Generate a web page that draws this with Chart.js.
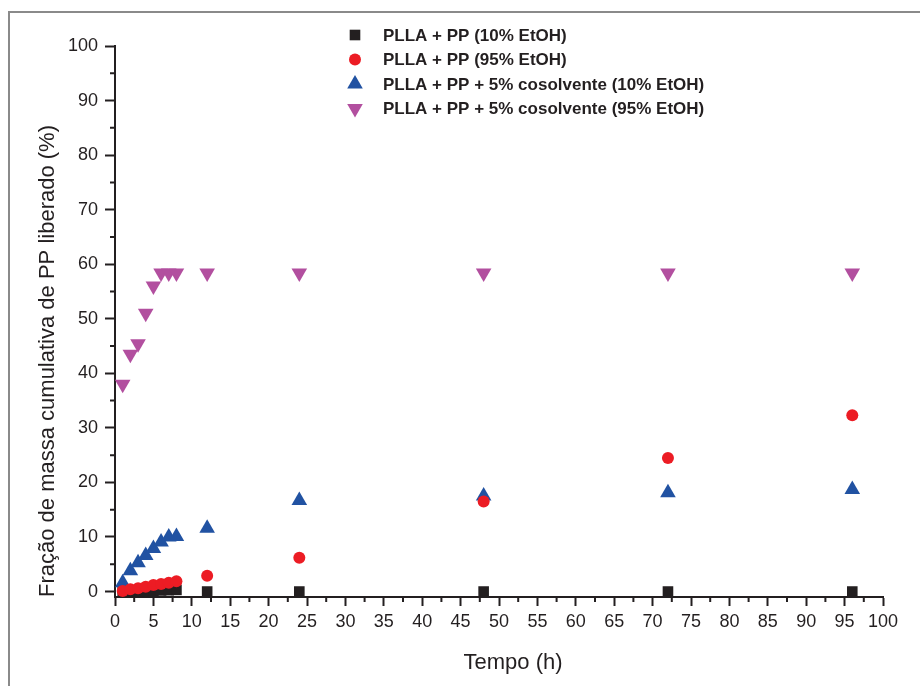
<!DOCTYPE html>
<html>
<head>
<meta charset="utf-8">
<script src="https://cdn.jsdelivr.net/npm/chart.js@4.4.1/dist/chart.umd.min.js"></script>
<style>
  html, body { margin: 0; padding: 0; background: #fff; }
  #wrap { width: 920px; height: 686px; position: relative; }
</style>
</head>
<body>
<div id="wrap"><canvas id="releaseChart" width="920" height="686"></canvas></div>
<script>
// sampling times (h)
const tempo = [1, 2, 3, 4, 5, 6, 7, 8, 12, 24, 48, 72, 96];

// cumulative released fraction of PP (%)
const pllaPp10 = [0, 0, 0.05, 0.1, 0.15, 0.2, 0.25, 0.3, 0, 0, 0, 0, 0];
const pllaPp95 = [0.1, 0.4, 0.6, 0.9, 1.2, 1.4, 1.6, 1.9, 2.9, 6.2, 16.5, 24.5, 32.3];
const cosolv10 = [1.6, 3.8, 5.3, 6.6, 7.9, 9.1, 10, 10.1, 11.6, 16.7, 17.5, 18.1, 18.7];
const cosolv95 = [38, 43.5, 45.4, 51, 56, 58.4, 58.4, 58.4, 58.4, 58.4, 58.4, 58.4, 58.4];

const seriesNames = [
    'PLLA + PP (10% EtOH)',
    'PLLA + PP (95% EtOH)',
    'PLLA + PP + 5% cosolvente (10% EtOH)',
    'PLLA + PP + 5% cosolvente (95% EtOH)'
];

const xTickValues = [0, 5, 10, 15, 20, 25, 30, 35, 40, 45, 50, 55, 60, 65, 70, 75, 80, 85, 90, 95, 100];
const yTickValues = [0, 10, 20, 30, 40, 50, 60, 70, 80, 90, 100];

const toPoints = vals => vals.map((v, i) => ({ x: tempo[i], y: v }));

const axisColor = '#231f20';
const fontFamily = '"Liberation Sans", Arial, sans-serif';

// minor ticks, outer frame, x title and the legend block
const extrasPlugin = {
    id: 'extras',
    beforeDraw(chart) {
        const ctx = chart.ctx;
        ctx.save();
        ctx.strokeStyle = '#8a8a8a';
        ctx.lineWidth = 2;
        ctx.beginPath();
        ctx.moveTo(9, 686);
        ctx.lineTo(9, 12);
        ctx.lineTo(920, 12);
        ctx.stroke();
        ctx.restore();
    },
    afterDatasetsDraw(chart) {
        const ctx = chart.ctx;
        const xs = chart.scales.x, ys = chart.scales.y;
        ctx.save();
        ctx.strokeStyle = axisColor;
        ctx.lineWidth = 2;
        ctx.beginPath();
        for (let i = 1; i < xTickValues.length; i++) {
            const px = xs.getPixelForValue((xTickValues[i - 1] + xTickValues[i]) / 2);
            ctx.moveTo(px, xs.top);
            ctx.lineTo(px, xs.top + 5);
        }
        for (let i = 1; i < yTickValues.length; i++) {
            const py = ys.getPixelForValue((yTickValues[i - 1] + yTickValues[i]) / 2);
            ctx.moveTo(ys.right, py);
            ctx.lineTo(ys.right - 5, py);
        }
        ctx.stroke();

        // x axis title, sitting a little right of the axis centre
        ctx.fillStyle = axisColor;
        ctx.font = '22px ' + fontFamily;
        ctx.textAlign = 'center';
        ctx.textBaseline = 'middle';
        ctx.fillText('Tempo (h)', (xs.left + xs.right) / 2 + 14, 663);

        // legend
        ctx.textAlign = 'left';
        ctx.font = 'bold 17px ' + fontFamily;
        const rows = [35, 59.5, 84, 108.5];
        chart.data.datasets.forEach((ds, i) => {
            ctx.save();
            ctx.fillStyle = ds.backgroundColor;
            ctx.strokeStyle = ds.backgroundColor;
            Chart.helpers.drawPoint(ctx, {
                pointStyle: ds.pointStyle,
                rotation: ds.pointRotation || 0,
                radius: ds.pointRadius,
                borderWidth: 0
            }, 355, rows[i]);
            ctx.restore();
            ctx.fillStyle = axisColor;
            ctx.fillText(ds.label, 383, rows[i] + 1);
        });
        ctx.restore();
    }
};

new Chart(document.getElementById('releaseChart'), {
    type: 'scatter',
    data: {
        datasets: [
            {
                label: seriesNames[0],
                data: toPoints(pllaPp10),
                pointStyle: 'rect',
                backgroundColor: '#231f20',
                borderColor: '#231f20',
                pointRadius: 7.5,
                order: 4
            },
            {
                label: seriesNames[1],
                data: toPoints(pllaPp95),
                pointStyle: 'circle',
                backgroundColor: '#ec1c24',
                borderColor: '#ec1c24',
                pointRadius: 6,
                order: 2
            },
            {
                label: seriesNames[2],
                data: toPoints(cosolv10),
                pointStyle: 'triangle',
                backgroundColor: '#2152a2',
                borderColor: '#2152a2',
                pointRadius: 9,
                order: 3
            },
            {
                label: seriesNames[3],
                data: toPoints(cosolv95),
                pointStyle: 'triangle',
                pointRotation: 180,
                backgroundColor: '#b24f9f',
                borderColor: '#b24f9f',
                pointRadius: 9,
                order: 1
            }
        ]
    },
    options: {
        responsive: false,
        animation: false,
        clip: false,
        layout: { padding: { left: 0, top: 46, right: 37, bottom: 0 } },
        elements: { point: { borderWidth: 0, hoverRadius: 9 } },
        plugins: {
            legend: { display: false },
            tooltip: { enabled: false }
        },
        scales: {
            x: {
                type: 'linear',
                min: 0,
                max: 100,
                afterFit: s => { s.height = 89; },
                afterBuildTicks: s => { s.ticks = xTickValues.map(v => ({ value: v })); },
                border: { color: axisColor, width: 2 },
                grid: {
                    drawOnChartArea: false,
                    tickLength: 9,
                    tickWidth: 2,
                    tickColor: axisColor
                },
                ticks: {
                    color: axisColor,
                    padding: 5,
                    maxRotation: 0,
                    autoSkip: false,
                    font: { family: fontFamily, size: 18 }
                }
            },
            y: {
                type: 'linear',
                min: -1,
                max: 100,
                afterFit: s => { s.width = 115; },
                afterBuildTicks: s => { s.ticks = yTickValues.map(v => ({ value: v })); },
                border: { color: axisColor, width: 2 },
                grid: {
                    drawOnChartArea: false,
                    tickLength: 10,
                    tickWidth: 2,
                    tickColor: axisColor
                },
                ticks: {
                    color: axisColor,
                    padding: 7,
                    autoSkip: false,
                    font: { family: fontFamily, size: 18 }
                },
                title: {
                    display: true,
                    align: 'start',
                    text: 'Fração de massa cumulativa de PP liberado (%)',
                    color: axisColor,
                    padding: { top: 35, bottom: 4 },
                    font: { family: fontFamily, size: 22 }
                }
            }
        }
    },
    plugins: [extrasPlugin]
});
</script>
</body>
</html>
